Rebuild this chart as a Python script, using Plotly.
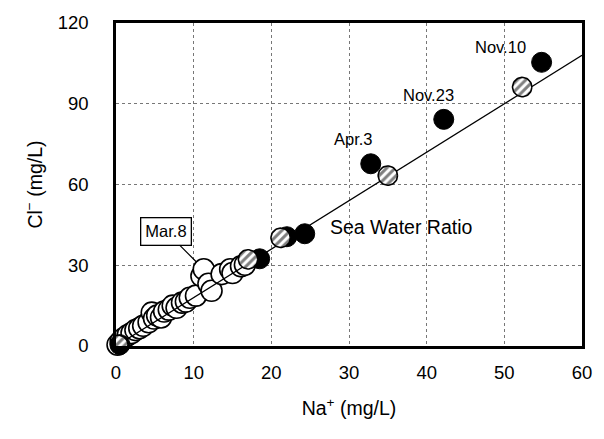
import numpy as np
import plotly.graph_objects as go

# ---- data (Na+ mg/L, Cl- mg/L) ----
open_na = [0.2, 0.6, 1.0, 1.5, 2.0, 2.5, 3.0, 3.5, 4.2, 4.6, 4.9, 5.3, 5.8, 6.2, 6.8,
           7.3, 7.8, 8.5, 9.0, 9.5, 10.3, 11.0, 11.3, 11.9, 12.3, 13.6, 14.7, 15.0, 16.1, 16.6]
open_cl = [0.5, 1.8, 2.9, 4.0, 4.8, 5.9, 6.6, 7.5, 8.8, 12.4, 10.2, 11.3, 10.6, 12.8, 13.5,
           15.0, 14.2, 16.1, 16.5, 17.9, 18.7, 26.0, 28.5, 23.1, 20.5, 26.7, 28.5, 27.1, 29.6, 30.2]

black_na = [0.5, 18.5, 22.0, 24.3, 32.8, 42.2, 54.8]
black_cl = [0.5, 32.4, 40.6, 41.7, 67.7, 84.2, 105.4]

hatch_na = [0.3, 17.0, 21.2, 35.0, 52.3]
hatch_cl = [0.4, 32.2, 40.2, 63.3, 96.2]

sea_na = [0, 60]
sea_ratio = 1.8  # Cl/Na of sea water

labels = ["Nov.10", "Nov.23", "Apr.3"]
label_na = [49.5, 40.2, 30.6]
label_cl = [110.9, 93.3, 76.8]

FONT = "Liberation Sans"
W, H = 604, 439
ML, MR, MT, MB = 116, 16, 18, 93
XR, YR = (0, 60), (0, 120)

fig = go.Figure()

# open circles
fig.add_trace(go.Scatter(
    x=open_na, y=open_cl, mode="markers", cliponaxis=False,
    marker=dict(symbol="circle", size=21, color="white",
                line=dict(color="black", width=1.6)),
    showlegend=False, hoverinfo="skip"))

# sea water ratio line
fig.add_trace(go.Scatter(
    x=sea_na, y=[sea_ratio * v for v in sea_na], mode="lines",
    line=dict(color="black", width=1.3), showlegend=False, hoverinfo="skip"))

# black circles
fig.add_trace(go.Scatter(
    x=black_na, y=black_cl, mode="markers", cliponaxis=False,
    marker=dict(symbol="circle", size=20, color="black",
                line=dict(color="black", width=1)),
    showlegend=False, hoverinfo="skip"))

# hatched circles as patterned polygons
pw = W - ML - MR
ph = H - MT - MB
r_px = 9.8
rx = r_px * (XR[1] - XR[0]) / pw
ry = r_px * (YR[1] - YR[0]) / ph
th = np.linspace(0, 2 * np.pi, 48)
hx, hy = [], []
for cx, cy in zip(hatch_na, hatch_cl):
    hx += list(cx + rx * np.cos(th)) + [None]
    hy += list(cy + ry * np.sin(th)) + [None]
fig.add_trace(go.Scatter(
    x=hx, y=hy, mode="lines", fill="toself",
    fillpattern=dict(shape="/", fgcolor="black", bgcolor="white", size=6, solidity=0.5),
    line=dict(color="black", width=1.6), showlegend=False, hoverinfo="skip"))

for t, xv, yv in zip(labels, label_na, label_cl):
    fig.add_annotation(x=xv, y=yv, text=t, showarrow=False,
                       font=dict(family=FONT, size=16.5, color="black"))

fig.add_annotation(x=36.7, y=44.3, text="Sea Water Ratio", showarrow=False,
                   font=dict(family=FONT, size=19.5, color="black"))

fig.add_annotation(x=open_na[22], y=open_cl[22], text="Mar.8", showarrow=True,
                   arrowhead=0, arrowwidth=1.2, arrowcolor="black", standoff=10,
                   ax=-38, ay=-38, bordercolor="black", borderwidth=1.3, borderpad=4,
                   bgcolor="white", font=dict(family=FONT, size=16.5, color="black"))

axis_common = dict(showline=True, linecolor="black", linewidth=2.5, mirror=True,
                   showgrid=True, gridcolor="#777777", gridwidth=1, griddash="dot",
                   zeroline=False, tickcolor="rgba(0,0,0,0)", ticks="outside",
                   tickfont=dict(family=FONT, size=18.5, color="black"))

fig.update_xaxes(range=list(XR), dtick=10, ticklen=8,
                 title=dict(text="Na<sup>+</sup> (mg/L)",
                            font=dict(family=FONT, size=19.5, color="black"), standoff=20),
                 **axis_common)
fig.update_yaxes(range=list(YR), dtick=30, ticklen=21,
                 title=dict(text="Cl<sup>−</sup> (mg/L)",
                            font=dict(family=FONT, size=19.5, color="black"), standoff=10),
                 **axis_common)

fig.update_layout(width=W, height=H, margin=dict(l=ML, r=MR, t=MT, b=MB),
                  plot_bgcolor="white", paper_bgcolor="white",
                  font=dict(family=FONT, color="black"))

fig.write_html("out.html")
